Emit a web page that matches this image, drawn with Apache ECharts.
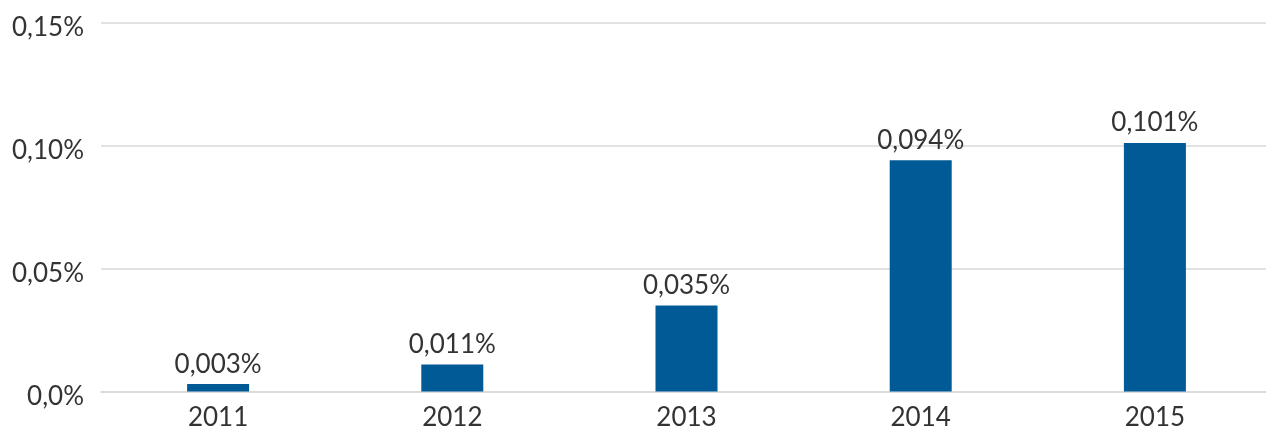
<!DOCTYPE html>
<html>
<head>
<meta charset="utf-8">
<script src="https://cdn.jsdelivr.net/npm/echarts@6/dist/echarts.min.js"></script>
<style>html,body{margin:0;padding:0;background:#fff}#c{width:1266px;height:428px}</style>
</head>
<body>
<div id="c"></div>
<script>
const categories = ['2011', '2012', '2013', '2014', '2015'];
const values = [0.003, 0.011, 0.035, 0.094, 0.101];
const yTicks = [0, 0.05, 0.10, 0.15];
const yTickLabels = ['0,0%', '0,05%', '0,10%', '0,15%'];

const chart = echarts.init(document.getElementById('c'), null, {renderer: 'canvas'});
const font = 'Lato';
const textColor = '#333333';
chart.setOption({
  animation: false,
  grid: {left: 101, top: 22.5, width: 1171, height: 369, outerBoundsMode: 'none', containLabel: false},
  xAxis: {
    type: 'category',
    data: categories,
    axisTick: {show: false},
    axisLine: {lineStyle: {color: '#d9d9d9', width: 1.5}},
    axisLabel: {fontFamily: font, fontSize: 26, color: textColor, margin: 13}
  },
  yAxis: {
    type: 'value',
    min: 0, max: 0.15, interval: 0.05,
    axisLine: {show: false},
    axisTick: {show: false},
    splitLine: {lineStyle: {color: '#d9d9d9', width: 1.5}},
    axisLabel: {
      fontFamily: font, fontSize: 26, color: textColor, margin: 17,
      verticalAlign: 'top', lineHeight: 10,
      formatter: function (v) {
        const i = yTicks.findIndex(t => Math.abs(t - v) < 1e-9);
        return i >= 0 ? yTickLabels[i] : '';
      }
    }
  },
  series: [{
    type: 'bar',
    data: values,
    barWidth: 62,
    itemStyle: {color: '#005A96'},
    label: {
      show: true, position: 'top', distance: 7,
      fontFamily: font, fontSize: 26, color: textColor,
      formatter: function (p) { return p.value.toFixed(3).replace('.', ',') + '%'; }
    }
  }]
});
</script>
</body>
</html>
